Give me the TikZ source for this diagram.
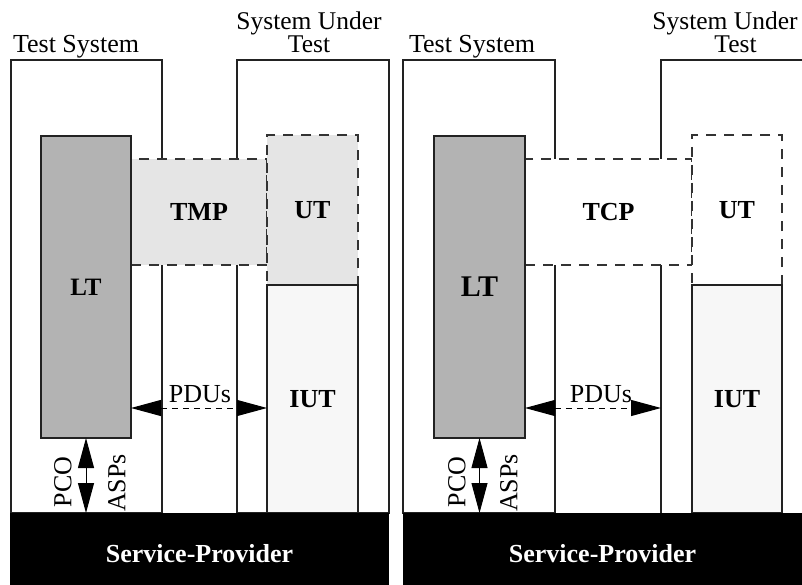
\documentclass[tikz,border=0pt]{standalone}
\usepackage{fontspec}
\setmainfont{Liberation Serif}
\usetikzlibrary{arrows.meta}
\definecolor{ltfill}{HTML}{B3B3B3}
\definecolor{tmpfill}{HTML}{E5E5E5}
\definecolor{iutfill}{HTML}{F7F7F7}
\definecolor{edge}{HTML}{222222}
\definecolor{dashedge}{HTML}{333333}
\newcommand\lblfont{\fontsize{26}{23}\selectfont}

\begin{document}
\begin{tikzpicture}[x=1pt,y=-1pt,
  every node/.style={inner sep=0pt, outer sep=0pt},
  frame/.style={rectangle, draw=edge, line width=1.3pt, fill=white, anchor=north west},
  dbox/.style={rectangle, draw=dashedge, line width=1.3pt, dash pattern=on 10pt off 8pt, anchor=north west, font=\lblfont\bfseries},
  solidbox/.style={rectangle, draw=edge, line width=1.3pt, anchor=north west, font=\lblfont\bfseries},
  spbox/.style={rectangle, fill=black, anchor=north west},
  sptext/.style={font=\lblfont\bfseries, text=white},
  lbl/.style={font=\lblfont},
  twoline/.style={font=\fontsize{25.5}{23.5}\selectfont, align=center, anchor=base},
  twoway/.style={line width=1pt, {Triangle[length=30pt,width=16pt]}-{Triangle[length=30pt,width=16pt]}},
  pdu/.style={twoway, dash pattern=on 6pt off 5pt}
]
\useasboundingbox (0,0) rectangle (802,585);
\coordinate (pdurow) at (0,408);

% ---------------- left configuration ----------------
\node[frame, minimum width=151pt, minimum height=453pt] (ts1) at (11,60) {};
\node[frame, minimum width=152pt, minimum height=453pt] (sut1) at (237,60) {};
\node[dbox, fill=tmpfill, minimum width=136pt, minimum height=106pt] (tmp) at (131,159) {TMP};
\node[dbox, fill=tmpfill, minimum width=91pt, minimum height=150pt] (ut1) at (267,135) {UT};
\node[solidbox, fill=iutfill, minimum width=91pt, minimum height=228pt] (iut1) at (267,285) {IUT};
\node[solidbox, fill=ltfill, minimum width=90pt, minimum height=302pt, font=\fontsize{25}{24}\selectfont\bfseries] (lt1) at (41,136) {LT};
\node[spbox, minimum width=379pt, minimum height=72pt] (sp1) at (10,513) {};
\node[sptext] at ([yshift=-5pt]sp1.center) {Service-Provider};

\node[lbl, anchor=base west] (tsl1) at (13,53) {Test System};
\node[twoline] (sutl1) at (309,53) {System Under\\Test};

\draw[pdu] (lt1.east |- pdurow) -- (iut1.west |- pdurow);
\node[lbl, anchor=base] (pdul1) at (200,402) {PDUs};
\draw[twoway] (lt1.south) -- (lt1.south |- sp1.north);
\node[lbl, rotate=90] (pco1) at (63,482) {PCO};
\node[lbl, rotate=90] (asp1) at (117,483) {ASPs};

% ---------------- right configuration ----------------
\node[frame, minimum width=152pt, minimum height=453pt] (ts2) at (403,60) {};
\node[rectangle, fill=white, minimum width=141pt, minimum height=453pt, anchor=north west] (sut2) at (661,60) {};
\draw[edge, line width=1.3pt] (sut2.north east) -- (sut2.north west) -- (sut2.south west);
\node[dbox, fill=white, minimum width=167pt, minimum height=106pt] (tcp) at (525,159) {TCP};
\node[dbox, fill=white, minimum width=90pt, minimum height=150pt] (ut2) at (692,135) {UT};
\node[solidbox, fill=iutfill, minimum width=90pt, minimum height=228pt] (iut2) at (692,285) {IUT};
\node[solidbox, fill=ltfill, minimum width=91pt, minimum height=302pt, font=\fontsize{30}{28}\selectfont\bfseries] (lt2) at (434,136) {LT};
\node[spbox, minimum width=399pt, minimum height=72pt] (sp2) at (403,513) {};
\node[sptext] at ([yshift=-5pt]sp2.center) {Service-Provider};

\node[lbl, anchor=base west] (tsl2) at (409,53) {Test System};
\node[twoline] (sutl2) at (725,53) {System Under\\\hspace*{21pt}Test};

\draw[pdu] (lt2.east |- pdurow) -- (sut2.west |- pdurow);
\node[lbl, anchor=base] (pdul2) at (601,402) {PDUs};
\draw[twoway] (lt2.south) -- (lt2.south |- sp2.north);
\node[lbl, rotate=90] (pco2) at (457,482) {PCO};
\node[lbl, rotate=90] (asp2) at (509,483) {ASPs};
\end{tikzpicture}
\end{document}
